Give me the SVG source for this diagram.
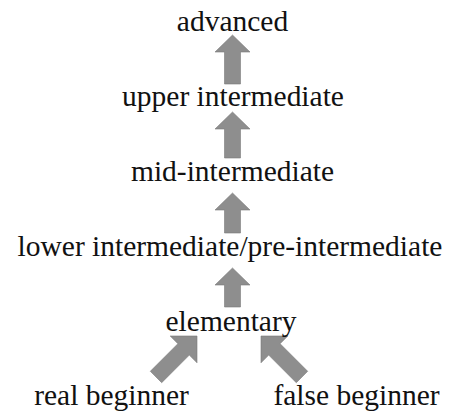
<svg xmlns="http://www.w3.org/2000/svg" width="451" height="412" viewBox="0 0 451 412">
<rect width="451" height="412" fill="#fff"/>
<g id="connectors" fill="#8e8e8e" stroke="#7a7a7a" stroke-width="0.6">
<polygon points="232.5,35 250,52 240.5,52 240.5,84 224.5,84 224.5,52 215,52"/>
<polygon points="232.5,112 250,129 240.5,129 240.5,158 224.5,158 224.5,129 215,129"/>
<polygon points="232.5,193 250,210 240.5,210 240.5,233 224.5,233 224.5,210 215,210"/>
<polygon points="232.5,268 250,285 240.5,285 240.5,307 224.5,307 224.5,285 215,285"/>
<polygon points="197,336 197,362.8 189.3,355.1 161.7,382.7 150.3,371.3 177.9,343.7 170.2,336"/>
<polygon points="261,336 261,362.8 268.7,355.1 296.3,382.7 307.7,371.3 280.1,343.7 287.8,336"/>
</g>
<g id="labels" font-family="Liberation Serif" font-size="24" fill="#111" text-anchor="middle">
<g id="advanced"><text transform="translate(232.5,31) scale(1.229)">advanced</text></g>
<g id="upper-intermediate"><text transform="translate(233,106) scale(1.229)">upper intermediate</text></g>
<g id="mid-intermediate"><text transform="translate(232.5,181) scale(1.229)">mid-intermediate</text></g>
<g id="lower-intermediate"><text transform="translate(230,256) scale(1.229)">lower intermediate/pre-intermediate</text></g>
<g id="elementary"><text transform="translate(231,331) scale(1.229)">elementary</text></g>
<g id="real-beginner"><text transform="translate(111.5,405) scale(1.229)">real beginner</text></g>
<g id="false-beginner"><text transform="translate(356.5,405) scale(1.229)">false beginner</text></g>
</g>
</svg>
